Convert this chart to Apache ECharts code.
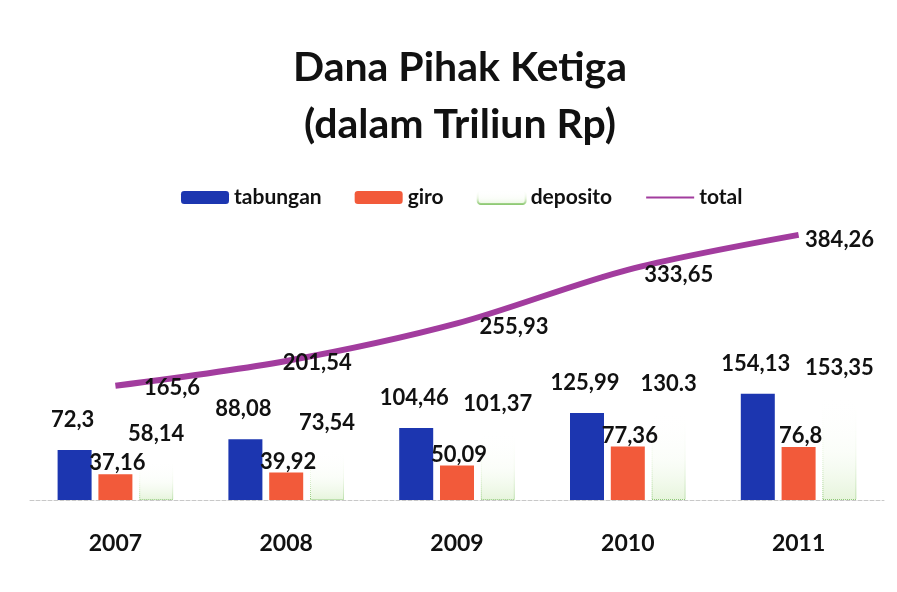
<!DOCTYPE html>
<html>
<head>
<meta charset="utf-8">
<script src="https://cdn.jsdelivr.net/npm/echarts@6/dist/echarts.min.js"></script>
<style>
    html, body { margin: 0; padding: 0; background: #ffffff; }
    #chart { width: 897px; height: 592px; }
</style>
</head>
<body>
<div id="chart"></div>
<script>
// data
const years = ["2007", "2008", "2009", "2010", "2011"];
const tabungan = [72.3, 88.08, 104.46, 125.99, 154.13];
const giro = [37.16, 39.92, 50.09, 77.36, 76.8];
const deposito = [58.14, 73.54, 101.37, 130.3, 153.35];
const total = [165.6, 201.54, 255.93, 333.65, 384.26];
// labels as printed (one uses a dot)
const depositoText = ["58,14", "73,54", "101,37", "130.3", "153,35"];
// where the total labels sit relative to each point (px), as in the scan
const totalLabelShift = [[28, 2], [-4, 2], [22, 3], [16, 5], [6, 5]];

const FONT = "Lato";
const comma = (v) => String(v).replace(".", ",");

const labelBase = {
    show: true,
    color: "#111",
    fontFamily: FONT,
    fontWeight: "bold",
    fontSize: 22
};

const chart = echarts.init(document.getElementById("chart"));
chart.setOption({
    backgroundColor: "#ffffff",
    animation: false,
    title: {
        text: "Dana Pihak Ketiga\n(dalam Triliun Rp)",
        left: 455,
        top: 34,
        textAlign: "center",
        textStyle: {
            fontFamily: FONT,
            fontWeight: "bold",
            fontSize: 41,
            lineHeight: 57,
            color: "#111"
        }
    },
    legend: {
        top: 182,
        left: 176,
        itemWidth: 48,
        itemHeight: 13,
        itemGap: 33,
        textStyle: { fontFamily: FONT, fontWeight: "bold", fontSize: 21, color: "#111" },
        data: ["tabungan", "giro", "deposito", "total"]
    },
    grid: { left: 30, right: 13, top: 224, bottom: 92 },
    xAxis: {
        type: "category",
        data: years,
        axisTick: { show: false },
        axisLine: { lineStyle: { color: "#c8c8c8", type: "dashed", width: 1 } },
        axisLabel: {
            margin: 32,
            fontFamily: FONT,
            fontWeight: "bold",
            fontSize: 23,
            color: "#111"
        }
    },
    yAxis: {
        type: "value",
        min: 0,
        max: 400,
        show: false,
        splitLine: { show: false }
    },
    series: [
        {
            name: "tabungan",
            type: "bar",
            data: tabungan,
            barWidth: 34,
            barGap: "20%",
            itemStyle: { color: "#1c36b0" },
            label: Object.assign({}, labelBase, {
                position: "top",
                distance: 19,
                offset: [-2, 0],
                formatter: (p) => comma(p.value)
            })
        },
        {
            name: "giro",
            type: "bar",
            data: giro,
            barWidth: 34,
            itemStyle: { color: "#f25a3a" },
            label: Object.assign({}, labelBase, {
                position: "top",
                distance: 0,
                offset: [2, 0],
                formatter: (p) => comma(p.value)
            })
        },
        {
            name: "deposito",
            type: "bar",
            data: deposito,
            barWidth: 34,
            itemStyle: {
                color: new echarts.graphic.LinearGradient(0, 0, 0, 1, [
                    { offset: 0, color: "rgba(255,255,255,0)" },
                    { offset: 0.55, color: "rgba(244,251,239,0.4)" },
                    { offset: 1, color: "rgba(222,241,208,0.75)" }
                ]),
                borderColor: new echarts.graphic.LinearGradient(0, 0, 0, 1, [
                    { offset: 0, color: "rgba(255,255,255,0)" },
                    { offset: 0.55, color: "rgba(205,232,185,0.45)" },
                    { offset: 1, color: "rgba(120,190,90,0.9)" }
                ]),
                borderWidth: 1,
                borderType: "dotted"
            },
            label: Object.assign({}, labelBase, {
                position: "top",
                distance: 15,
                formatter: (p) => depositoText[p.dataIndex]
            })
        },
        {
            name: "total",
            type: "line",
            data: total.map((v, i) => ({
                value: v,
                label: { offset: totalLabelShift[i] }
            })),
            smooth: 0.3,
            symbol: "circle",
            symbolSize: 1,
            lineStyle: { color: "#a23c9e", width: 6 },
            itemStyle: { color: "rgba(0,0,0,0)" },
            label: Object.assign({}, labelBase, {
                position: "right",
                distance: 0,
                formatter: (p) => comma(p.value)
            })
        }
    ]
});
</script>
</body>
</html>
